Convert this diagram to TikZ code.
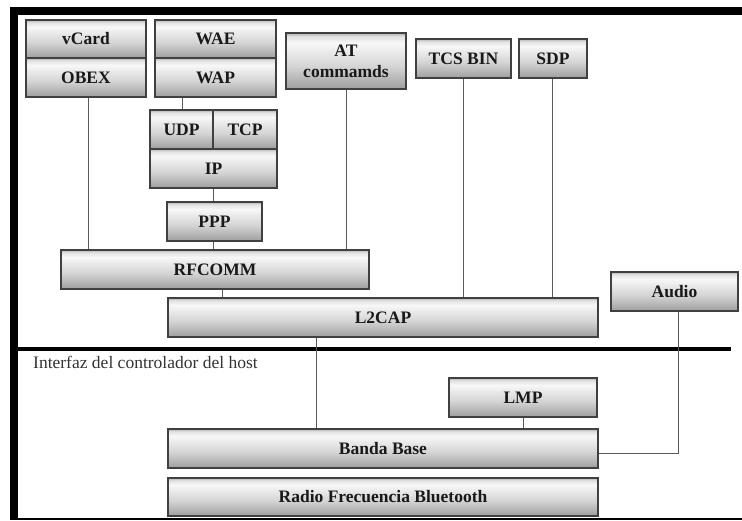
\documentclass[tikz,border=0pt]{standalone}
\usepackage{fontspec}
\setmainfont{Liberation Serif}
\usetikzlibrary{calc}

% soft gray gradient of the protocol boxes: thin grey band on top,
% near-white just below it, darkening towards the bottom edge
\pgfdeclareverticalshading{layershade}{100bp}{%
  color(0bp)=(black!38);
  color(25bp)=(black!38);
  color(45bp)=(black!17);
  color(66bp)=(black!3);
  color(72bp)=(black!12);
  color(75bp)=(black!30);
  color(100bp)=(black!30)}

\tikzset{
  layer/.style={draw=black!75, line width=1.2pt, shading=layershade,
    font=\bfseries\fontsize{17.5}{18}\selectfont, text=black!90,
    inner sep=0pt, align=center},
  link/.style={draw=black!65, line width=0.9pt},
}

% box from its corner coordinates (pixels, y downwards)
\newcommand{\layerbox}[6]{%
  \node[layer, minimum width={(#4-#2)*1pt}, minimum height={(#5-#3)*1pt}]
    (#1) at ({(#2+#4)/2},{(#3+#5)/2}) {#6};}

\begin{document}
\begin{tikzpicture}[x=1pt, y=-1pt]
\useasboundingbox (0,0) rectangle (742,521);

% outer frame: heavy top and left rules, thin bottom rule
\fill[black] (10,7) rectangle (742,15);
\fill[black] (10,7) rectangle (17.5,520);
\draw[black, line width=2pt] (10,518.5) -- (742,518.5);

% host stack
\layerbox{vcard}{26}{20}{146}{58}{vCard}
\layerbox{obex}{26}{58}{146}{97}{OBEX}
\layerbox{wae}{155}{20}{276}{58}{WAE}
\layerbox{wap}{155}{58}{276}{97}{WAP}
\layerbox{at}{286}{33}{406}{89}{AT\\[3pt]commamds}
\layerbox{tcs}{416}{39}{511}{78}{TCS BIN}
\layerbox{sdp}{519}{39}{587}{78}{SDP}
\layerbox{udp}{150}{110}{213}{149}{UDP}
\layerbox{tcp}{213}{110}{277}{149}{TCP}
\layerbox{ip}{150}{149}{277}{188}{IP}
\layerbox{ppp}{167}{202}{262}{241}{PPP}
\layerbox{rfcomm}{61}{250}{369}{289}{RFCOMM}
\layerbox{l2cap}{168}{298}{598}{337}{L2CAP}
\layerbox{audio}{611}{272}{738}{311}{Audio}

% host controller interface
\coordinate (hciL) at (17,349);
\coordinate (hciR) at (731,349);
\draw[black, line width=4pt] (hciL) -- (hciR);
\node[anchor=north west, inner sep=0pt, font=\fontsize{17.5}{18}\selectfont, text=black!80]
  (hcitext) at (33,356) {Interfaz del controlador del host};

% controller stack
\layerbox{lmp}{449}{378}{597}{417}{LMP}
\layerbox{banda}{168}{429}{598}{468}{Banda Base}
\layerbox{radio}{168}{478}{598}{516}{Radio Frecuencia Bluetooth}

% connections between layers
\draw[link] (obex.south -| 88,0) -- (rfcomm.north -| 88,0);
\draw[link] (wap.south -| 182,0) -- (udp.north -| 182,0);
\draw[link] (ip.south -| 213,0) -- (ppp.north -| 213,0);
\draw[link] (ppp.south -| 213,0) -- (rfcomm.north -| 213,0);
\draw[link] (at.south -| 346,0) -- (rfcomm.north -| 346,0);
\draw[link] (tcs.south) -- (l2cap.north -| tcs.south);
\draw[link] (sdp.south -| 552,0) -- (l2cap.north -| 552,0);
\draw[link] (rfcomm.south -| 222,0) -- (l2cap.north -| 222,0);
\draw[link] (l2cap.south -| 316,0) -- (banda.north -| 316,0);
\draw[link] (lmp.south -| 523,0) -- (banda.north -| 523,0);
\draw[link] (audio.south -| 678,0) |- (banda.east |- 0,453);
\end{tikzpicture}
\end{document}
